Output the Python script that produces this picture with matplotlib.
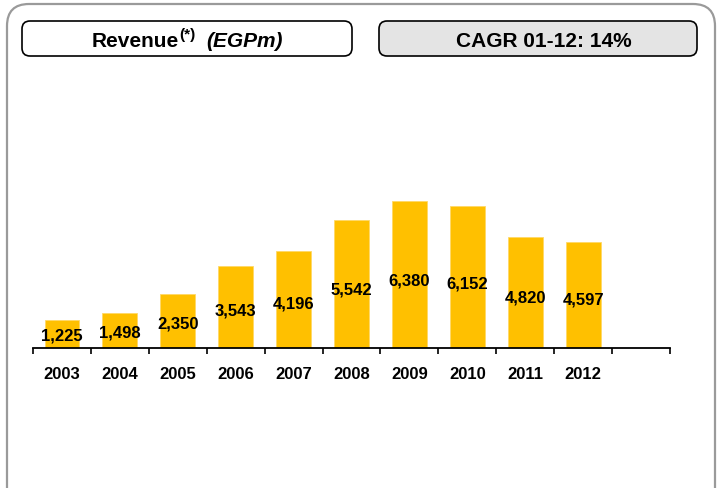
import matplotlib.pyplot as plt
from matplotlib.patches import FancyBboxPatch

plt.rcParams['font.family'] = ['Liberation Sans', 'DejaVu Sans']

# revenue, EGP millions
years = ["2003", "2004", "2005", "2006", "2007", "2008", "2009", "2010", "2011", "2012"]
revenue = [1225, 1498, 2350, 3543, 4196, 5542, 6380, 6152, 4820, 4597]
cagr_text = "CAGR 01-12: 14%"

W, H = 719, 489
fig = plt.figure(figsize=(W / 100, H / 100), dpi=100)

# pixel-space layer for the frame and the two header boxes
bg = fig.add_axes([0, 0, 1, 1], zorder=0)
bg.set_xlim(0, W)
bg.set_ylim(H, 0)
bg.axis("off")

def rounded(x0, y0, x1, y1, r, **kw):
    p = FancyBboxPatch((x0 + r, y0 + r), (x1 - x0) - 2 * r, (y1 - y0) - 2 * r,
                       boxstyle="round,pad=%g,rounding_size=%g" % (r, r), **kw)
    bg.add_patch(p)

rounded(7, 5, 715, 520, 22, facecolor="white", edgecolor="#9a9a9a", linewidth=1.6)
rounded(22, 22, 352, 57, 8, facecolor="white", edgecolor="black", linewidth=1.2)
rounded(379, 22, 697, 57, 8, facecolor="#e4e4e4", edgecolor="black", linewidth=1.2)

# header: "Revenue" + superscript note + italic unit
bg.text(92, 47, "Revenue", fontsize=15, fontweight="bold", va="baseline", ha="left")
bg.text(179, 39.5, "(*)", fontsize=11, fontweight="bold", va="baseline", ha="left")
bg.text(283, 47, "(EGPm)", fontsize=15, fontweight="bold", fontstyle="italic",
        va="baseline", ha="right")
bg.text(544, 47, cagr_text, fontsize=15, fontweight="bold", va="baseline", ha="center")

# bar chart
ax = fig.add_axes([33 / W, 1 - 349 / H, (670 - 33) / W, (349 - 100) / H], zorder=1)
ax.patch.set_alpha(0)
x = list(range(len(years)))
ax.bar(x, revenue, width=0.6, color="#FFC000", edgecolor="#FFD966", linewidth=0.6)
for xi, v in zip(x, revenue):
    ax.text(xi, v * 0.46, f"{v:,}", ha="center", va="center",
            fontsize=12, fontweight="bold")

ax.set_xlim(-0.5, 10.5)
ax.set_ylim(0, 10784)
for s in ["top", "right", "left"]:
    ax.spines[s].set_visible(False)
ax.spines["bottom"].set_linewidth(1.3)
ax.set_yticks([])
ax.set_xticks(x)
ax.set_xticklabels(years, fontsize=12, fontweight="bold")
ax.tick_params(axis="x", which="major", length=0, pad=13)
ax.set_xticks([i - 0.5 for i in range(12)], minor=True)
ax.tick_params(axis="x", which="minor", length=4, width=1.2, direction="out")

fig.savefig("out.png", dpi=100)
